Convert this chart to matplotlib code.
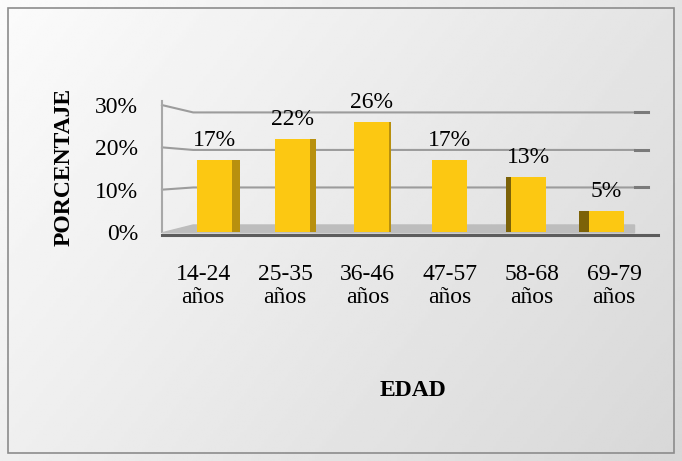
import numpy as np
import matplotlib
matplotlib.use('Agg')
import matplotlib.pyplot as plt
from matplotlib.patches import Rectangle, Polygon

# age groups and share of respondents (%)
grupos = ['14-24\naños', '25-35\naños', '36-46\naños', '47-57\naños', '58-68\naños', '69-79\naños']
porcentajes = [17, 22, 26, 17, 13, 5]
y_ticks = [0, 10, 20, 30]

FRONT = '#FCC812'
SIDE_R = '#B8900E'
SIDE_L = '#7C6208'
GRID = '#9c9c9c'

plt.rcParams['font.family'] = ['Liberation Serif', 'DejaVu Serif']

fig = plt.figure(figsize=(6.82, 4.61), dpi=100)

# light gradient background with a thin frame
bg = fig.add_axes([0, 0, 1, 1], zorder=-10)
gx, gy = np.meshgrid(np.linspace(0, 1, 200), np.linspace(0, 1, 200))
grad = 0.985 - 0.14 * (0.65 * gx + 0.35 * gy)
bg.imshow(grad, cmap='gray', vmin=0, vmax=1, aspect='auto', extent=[0, 1, 0, 1])
bg.set_axis_off()
fig.patches.append(Rectangle((0.012, 0.017), 0.976, 0.966, transform=fig.transFigure,
                             fill=False, ec='#8c8c8c', lw=1.2))

ax = fig.add_axes([0.2375, 0.4794, 0.723, 0.3037])
ax.patch.set_alpha(0)
x = np.arange(len(grupos))
ax.set_xlim(-0.5, 5.5)
ax.set_ylim(-1.9, 31.2)

# back wall sits a little higher and flatter than the front scale
def back(v):
    return 1.65 + 0.887 * v

x_wall, x_back, x_end = -0.5, -0.12, 5.25
for t in y_ticks[1:]:
    ax.plot([x_wall, x_back, x_end], [t, back(t), back(t)], color=GRID, lw=1.5,
            zorder=1, clip_on=False)
    ax.plot([x_end, x_end + 0.16], [back(t), back(t)], color='#7a7a7a', lw=2.2,
            zorder=1, clip_on=False)
ax.plot([x_wall, x_wall], [0, 31], color='#a8a8a8', lw=1.5, zorder=1, clip_on=False)

# floor
ax.add_patch(Polygon([[x_wall, -0.2], [x_back, back(0)], [x_end, back(0)], [x_end, -0.2]],
                     closed=True, color='#bdbdbd', zorder=2, clip_on=False))
ax.plot([x_wall, 5.54], [-0.7, -0.7], color='#5c5c5c', lw=2.2, zorder=2, clip_on=False)

# bars: front face plus a side face that turns with the viewpoint
w = 0.426
for i, v in enumerate(porcentajes):
    xc = i + (3 - i) * 0.045
    if i < 3:
        side = 0.034 * (3 - i)
        ax.bar(xc + w / 2 + side / 2, v, width=side, color=SIDE_R, zorder=3)
    elif i > 3:
        side = 0.06 * (i - 3)
        ax.bar(xc - w / 2 - side / 2, v, width=side, color=SIDE_L, zorder=3)
    ax.bar(xc, v, width=w, color=FRONT, zorder=4)
    ax.text(xc, v + 2.2, f'{v}%', ha='center', va='bottom', fontsize=17, zorder=5)

ax.set_xticks(x)
ax.set_xticklabels(grupos, fontsize=17, linespacing=1.15)
ax.set_yticks(y_ticks)
ax.set_yticklabels([f'{t}%' for t in y_ticks], fontsize=17)
ax.tick_params(axis='x', length=0, pad=17)
ax.tick_params(axis='y', length=0, pad=17)
for s in ax.spines.values():
    s.set_visible(False)

fig.text(64 / 682, 1 - 167 / 461, 'PORCENTAJE', rotation=90, ha='center', va='center',
         fontsize=17, fontweight='bold')
fig.text(413 / 682, 1 - 390 / 461, 'EDAD', ha='center', va='center', fontsize=17,
         fontweight='bold')

fig.savefig('out.png', dpi=100)
